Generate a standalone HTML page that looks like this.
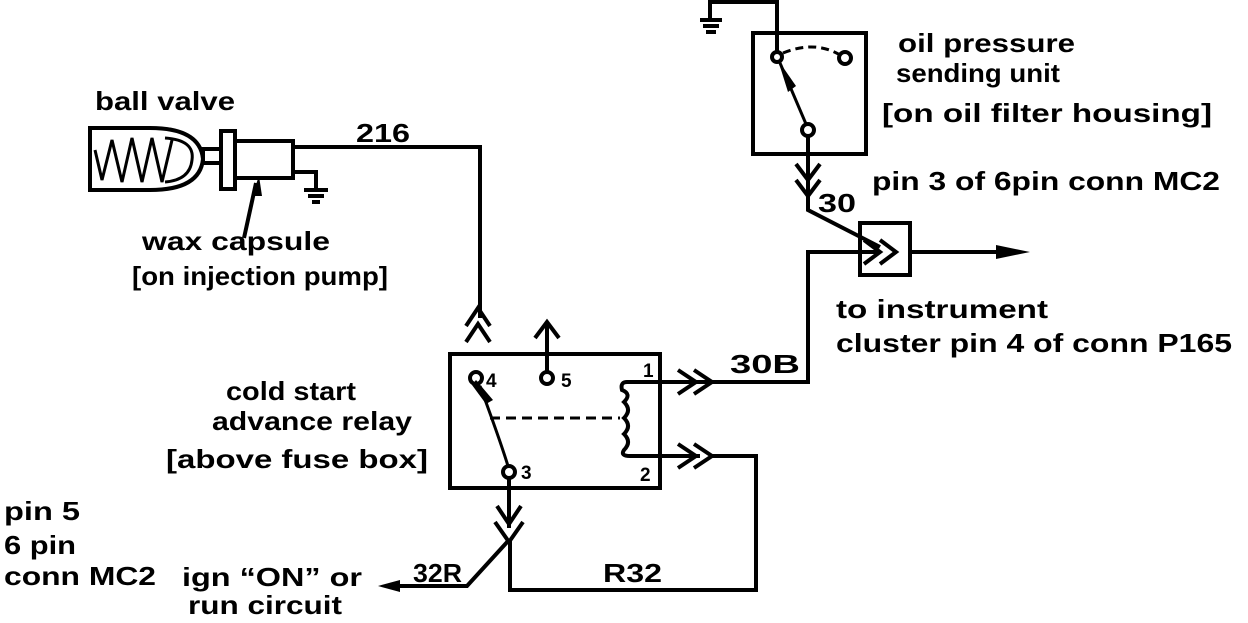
<!DOCTYPE html>
<html><head><style>
body{margin:0;background:#fff}
svg text{font-family:"Liberation Sans",sans-serif;font-weight:bold;fill:#000}
</style></head><body>
<svg width="1248" height="618" viewBox="0 0 1248 618" xmlns="http://www.w3.org/2000/svg">
<g fill="none" stroke="#000" stroke-width="4">
<path d="M150,128 L90,128 L90,190 L150,190 Q200,190 203,159 Q200,128 150,128 Z"/>
<path d="M95,150 L102,180 L112,140 L122,182 L132,138 L142,182 L152,138 L162,182 L172,140" stroke-width="3"/>
<path d="M165,138 Q195,140 192,160 Q190,180 165,182" stroke-width="3"/>
<rect x="203" y="149" width="18" height="14"/>
<rect x="221" y="131" width="14" height="58"/>
<rect x="235" y="141" width="58" height="37"/>
<path d="M293,147 H480 V318"/>
<path d="M293,172 H316 V190"/>
<path d="M304,190 H328 M308,196 H324 M312,202 H320"/>
<path d="M244,238 L256,183"/>
<rect x="450" y="354" width="210" height="134"/>
<path d="M466,326 L478,308 L490,326 M466,342 L478,324 L490,342"/>
<path d="M547,372 V322 M535,338 L547,322 L559,338"/>
<circle cx="476" cy="378" r="6" fill="#fff"/>
<circle cx="547" cy="378" r="6" fill="#fff"/>
<circle cx="509" cy="472" r="6" fill="#fff"/>
<path d="M508,466 Q500,440 480,386" stroke-width="3"/>
<path d="M490,418 H620" stroke-dasharray="10,6" stroke-width="3"/>
<path d="M662,382 H627 Q620,382 622,390 Q632,394 624,402 Q632,410 624,418 Q632,426 624,434 Q632,442 624,450 Q620,456 630,456 H700"/>
<path d="M662,382 H712 M678,370 L696,382 L678,394 M694,370 L712,382 L694,394"/>
<path d="M678,444 L696,456 L678,468 M694,444 L712,456 L694,468"/>
<path d="M710,382 H808 V252 H880"/>
<path d="M710,456 H756 V590 H510 V540"/>
<path d="M509,478 V528 M497,506 L509,524 L521,506 M495,522 L509,542 L523,522"/>
<path d="M509,540 L467,586 H400"/>
<rect x="753" y="33" width="113" height="121"/>
<path d="M777,52 V2 H710 V20"/>
<path d="M700,20 H722 M703,26 H719 M706,32 H716"/>
<circle cx="777" cy="57" r="5" fill="#fff"/>
<circle cx="845" cy="58" r="6" fill="#fff"/>
<circle cx="808" cy="130" r="6" fill="#fff"/>
<path d="M783,53 Q815,40 840,55" stroke-dasharray="8,5" stroke-width="3"/>
<path d="M806,124 L780,63" stroke-width="3"/>
<path d="M808,136 V210 L880,247"/>
<path d="M796,164 L808,180 L820,164 M796,180 L808,196 L820,180"/>
<rect x="860" y="223" width="50" height="52"/>
<path d="M864,240 L880,252 L864,264 M880,240 L896,252 L880,264"/>
<path d="M910,252 H1000"/>
</g>
<g fill="#000">
<polygon points="472,385 476,380 493,400 486,404"/>
<polygon points="778,60 788,92 796,86"/>
<polygon points="996,245 1030,252 996,259"/>
<polygon points="378,586 400,580 400,592"/>
<polygon points="259,176 252,196 262,196"/>
</g>
<g font-size="26">
<text x="95" y="110" textLength="140" lengthAdjust="spacingAndGlyphs">ball valve</text>
<text x="356" y="142" textLength="54" lengthAdjust="spacingAndGlyphs">216</text>
<text x="142" y="250" textLength="188" lengthAdjust="spacingAndGlyphs">wax capsule</text>
<text x="132" y="285" textLength="256" lengthAdjust="spacingAndGlyphs">[on injection pump]</text>
<text x="226" y="400" textLength="130" lengthAdjust="spacingAndGlyphs">cold start</text>
<text x="212" y="430" textLength="200" lengthAdjust="spacingAndGlyphs">advance relay</text>
<text x="166" y="468" textLength="262" lengthAdjust="spacingAndGlyphs">[above fuse box]</text>
<text x="4" y="520" textLength="76" lengthAdjust="spacingAndGlyphs">pin 5</text>
<text x="4" y="554" textLength="72" lengthAdjust="spacingAndGlyphs">6 pin</text>
<text x="4" y="585" textLength="152" lengthAdjust="spacingAndGlyphs">conn MC2</text>
<text x="182" y="586" textLength="180" lengthAdjust="spacingAndGlyphs">ign “ON” or</text>
<text x="188" y="614" textLength="154" lengthAdjust="spacingAndGlyphs">run circuit</text>
<text x="413" y="582" textLength="49" lengthAdjust="spacingAndGlyphs">32R</text>
<text x="603" y="582" textLength="59" lengthAdjust="spacingAndGlyphs">R32</text>
<text x="730" y="373" textLength="70" lengthAdjust="spacingAndGlyphs">30B</text>
<text x="898" y="52" textLength="177" lengthAdjust="spacingAndGlyphs">oil pressure</text>
<text x="896" y="82" textLength="164" lengthAdjust="spacingAndGlyphs">sending unit</text>
<text x="882" y="122" textLength="330" lengthAdjust="spacingAndGlyphs">[on oil filter housing]</text>
<text x="872" y="190" textLength="348" lengthAdjust="spacingAndGlyphs">pin 3 of 6pin conn MC2</text>
<text x="818" y="212" textLength="38" lengthAdjust="spacingAndGlyphs">30</text>
<text x="836" y="318" textLength="212" lengthAdjust="spacingAndGlyphs">to instrument</text>
<text x="836" y="352" textLength="396" lengthAdjust="spacingAndGlyphs">cluster pin 4 of conn P165</text>
</g>
<g font-size="19">
<text x="486" y="387">4</text>
<text x="561" y="387">5</text>
<text x="521" y="479">3</text>
<text x="643" y="377">1</text>
<text x="640" y="481">2</text>
</g>
</svg>
</body></html>
